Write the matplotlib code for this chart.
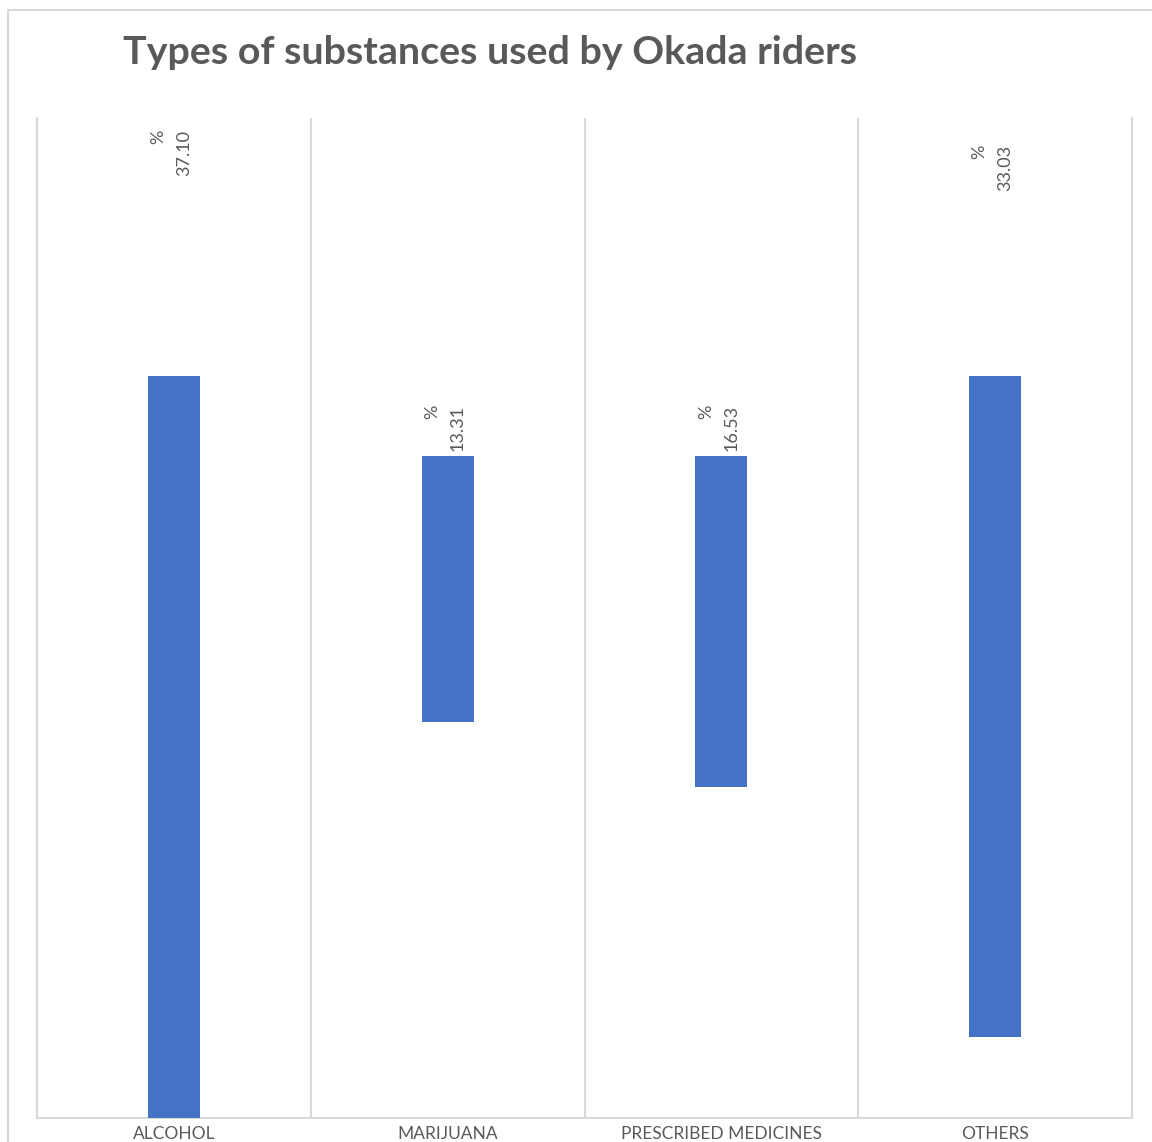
import matplotlib.pyplot as plt
from matplotlib.patches import Rectangle

# substance share (%) and where each floating bar starts
categories = ["ALCOHOL", "MARIJUANA", "PRESCRIBED MEDICINES", "OTHERS"]
values = [37.10, 13.31, 16.53, 33.03]
bases = [0.0, 19.79, 16.57, 4.07]
label_y = [47.1, 33.35, 33.35, 46.35]

bar_color = "#4472C4"
grid_color = "#D9D9D9"
text_color = "#595959"

plt.rcParams["font.family"] = ["Lato", "DejaVu Sans"]

fig = plt.figure(figsize=(11.52, 11.42), dpi=100)
ax = fig.add_axes([37 / 1152, 1 - 1118 / 1142, (1132 - 37) / 1152, (1118 - 118) / 1142])

x = list(range(len(categories)))
ax.bar(x, values, bottom=bases, width=0.19, color=bar_color, zorder=3)

for xi, v, ly in zip(x, values, label_y):
    ax.text(xi - 0.01, ly, "%\n" + f"{v:.2f}", rotation=90, ha="center", va="bottom",
            multialignment="right", fontsize=13, color=text_color, linespacing=1.75)

ax.set_xlim(-0.5, len(categories) - 0.5)
ax.set_ylim(0, 50)
ax.set_yticks([])
ax.set_xticks(x)
ax.set_xticklabels(categories, fontsize=12.5, color=text_color)
ax.tick_params(axis="x", length=0, pad=6)

# separators between categories
for sep in [0.5, 1.5, 2.5]:
    ax.axvline(sep, color=grid_color, lw=1.5, zorder=1)

for side in ["left", "right", "bottom"]:
    ax.spines[side].set_color(grid_color)
    ax.spines[side].set_linewidth(1.5)
ax.spines["top"].set_visible(False)

fig.text(123 / 1152, 1 - 52 / 1142, "Types of substances used by Okada riders",
         fontsize=28.4, fontweight="bold", color=text_color, va="center", ha="left")

# chart border
fig.patches.append(Rectangle((8 / 1152, -0.1), 1.2, 1 - 10 / 1142 + 0.1,
                             transform=fig.transFigure, fill=False,
                             edgecolor=grid_color, lw=1.5))

fig.savefig("out.png", dpi=100)
